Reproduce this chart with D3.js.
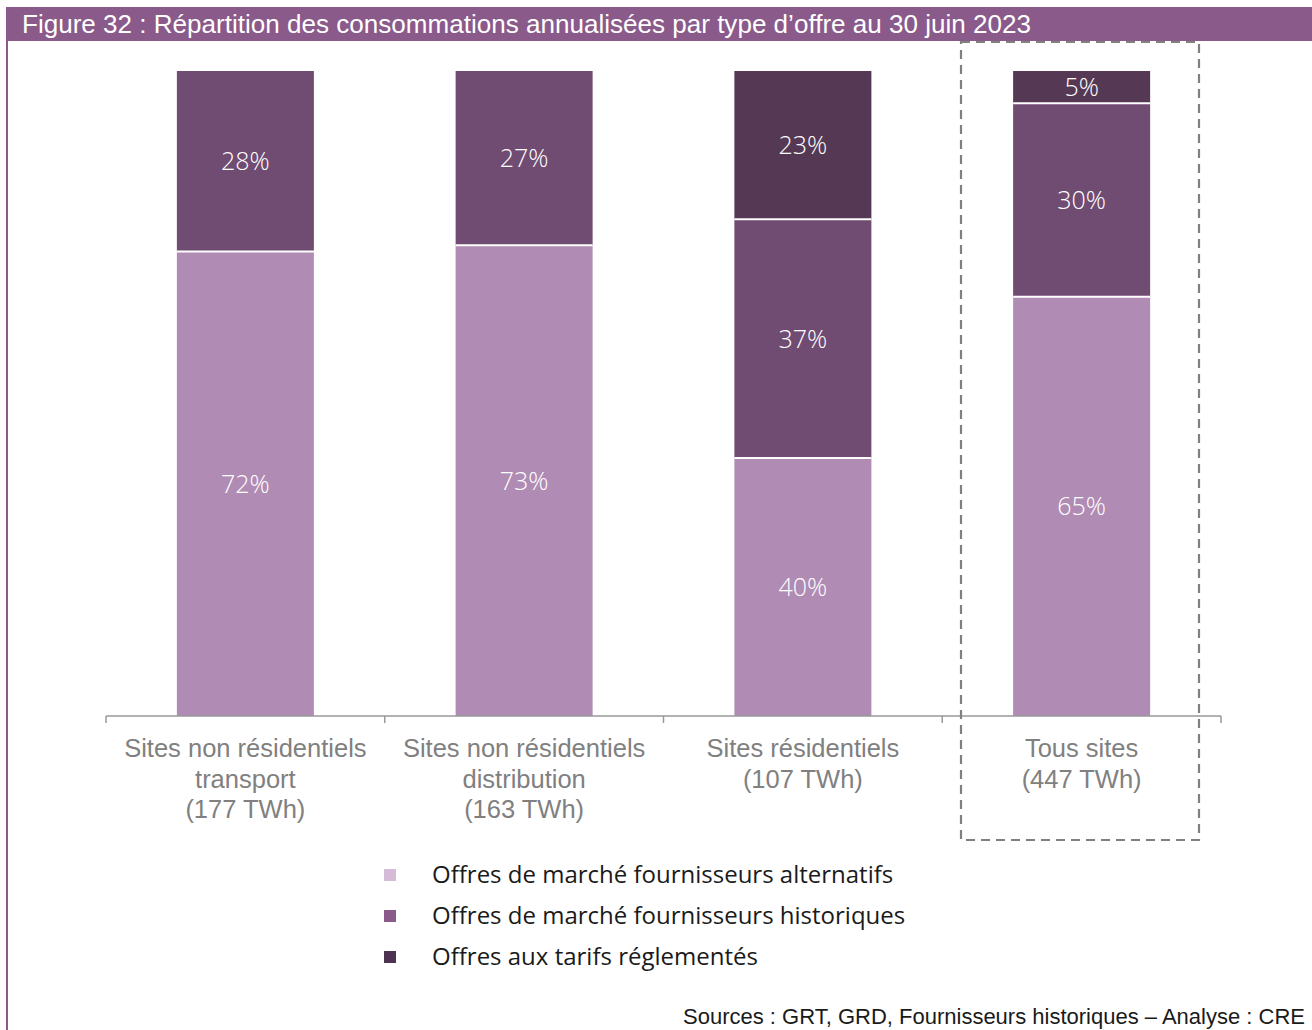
<!DOCTYPE html>
<html><head><meta charset="utf-8">
<script src="https://cdn.jsdelivr.net/npm/d3@7"></script>
<style>body{margin:0;background:#fff}svg{display:block}</style>
</head><body><svg id="c" width="1312" height="1030"></svg>
<script>
const title = "Figure 32 : Répartition des consommations annualisées par type d’offre au 30 juin 2023";
const categories = [
  ["Sites non résidentiels","transport","(177 TWh)"],
  ["Sites non résidentiels","distribution","(163 TWh)"],
  ["Sites résidentiels","(107 TWh)"],
  ["Tous sites","(447 TWh)"]
];
const seriesNames = ["Offres de marché fournisseurs alternatifs","Offres de marché fournisseurs historiques","Offres aux tarifs réglementés"];
const alternatifs = [72, 73, 40, 65];
const historiques = [28, 27, 37, 30];
const tarifs = [0, 0, 23, 5];
const source = "Sources : GRT, GRD, Fournisseurs historiques – Analyse : CRE";

const barColors = ["#b08bb3", "#704b72", "#553853"];
const legendColors = ["#d4bcd6", "#8a5a8b", "#4e3350"];
const FONT = "Open Sans, Liberation Sans, sans-serif";
const FONT2 = "Liberation Sans, Arial, sans-serif";

const svg = d3.select("#c");
const W = 1312, H = 1030;
// frame
svg.append("rect").attr("x",6).attr("y",7).attr("width",W-6).attr("height",34).attr("fill","#8a5a8b");
svg.append("rect").attr("x",6).attr("y",7).attr("width",2).attr("height",H-7).attr("fill","#8a5a8b");
svg.append("text").attr("x",22).attr("y",33).attr("fill","#fff")
  .attr("font-family","Liberation Sans Narrow, Liberation Sans, sans-serif").attr("font-size",25)
  .attr("textLength",1009).attr("lengthAdjust","spacingAndGlyphs").text(title);

const x = d3.scaleBand().domain(d3.range(categories.length)).range([106,1221]).paddingInner(0).paddingOuter(0);
const y = d3.scaleLinear().domain([0,100]).range([716,71]);
const barW = 137;

const rows = categories.map((c,i)=>({i, a:alternatifs[i], h:historiques[i], t:tarifs[i]}));
const stack = d3.stack().keys(["a","h","t"])(rows);

const g = svg.append("g");
stack.forEach((layer,k)=>{
  layer.forEach((d,i)=>{
    if (d[1]-d[0] <= 0) return;
    const cx = x(i)+x.bandwidth()/2;
    g.append("rect").attr("x",cx-barW/2).attr("y",y(d[1])).attr("width",barW)
      .attr("height",y(d[0])-y(d[1])).attr("fill",barColors[k]);
  });
});
// white separators
stack.forEach((layer,k)=>{
  if(k===0) return;
  layer.forEach((d,i)=>{
    if (d[1]-d[0] <= 0) return;
    const cx = x(i)+x.bandwidth()/2;
    g.append("line").attr("x1",cx-barW/2).attr("x2",cx+barW/2).attr("y1",y(d[0])).attr("y2",y(d[0]))
      .attr("stroke","#fff").attr("stroke-width",2);
  });
});
stack.forEach((layer,k)=>{
  layer.forEach((d,i)=>{
    const v = d[1]-d[0]; if (v<=0) return;
    const cx = x(i)+x.bandwidth()/2;
    g.append("text").attr("x",cx).attr("y",(y(d[0])+y(d[1]))/2+9).attr("text-anchor","middle")
      .attr("fill","#fff").attr("font-family",FONT).attr("font-weight",300).attr("font-size",25)
      .text(v+"%");
  });
});

// axis
const ax = svg.append("g").attr("transform","translate(0,716)");
ax.append("line").attr("x1",106).attr("x2",1221).attr("stroke","#999").attr("stroke-width",1.5);
d3.range(categories.length+1).forEach(i=>{
  const xx = i<categories.length ? x(i) : x(categories.length-1)+x.bandwidth();
  ax.append("line").attr("x1",xx).attr("x2",xx).attr("y1",0).attr("y2",7).attr("stroke","#999").attr("stroke-width",1.5);
});
categories.forEach((lines,i)=>{
  const t = svg.append("text").attr("text-anchor","middle").attr("fill","#808080")
    .attr("font-family",FONT2).attr("font-size",25.5);
  lines.forEach((l,j)=>t.append("tspan").attr("x",x(i)+x.bandwidth()/2).attr("y",757+j*30.5).text(l));
});

// dashed box
svg.append("rect").attr("x",961).attr("y",42).attr("width",238).attr("height",798)
  .attr("fill","none").attr("stroke","#808080").attr("stroke-width",2.2).attr("stroke-dasharray","9,6");

// legend
seriesNames.forEach((n,k)=>{
  const yy = 875 + k*41;
  svg.append("rect").attr("x",384).attr("y",yy-6).attr("width",12).attr("height",12).attr("fill",legendColors[k]);
  svg.append("text").attr("x",432).attr("y",yy+8).attr("fill","#1a1a1a")
    .attr("font-family",FONT).attr("font-size",24).text(n);
});
svg.append("text").attr("x",1305).attr("y",1024).attr("text-anchor","end").attr("fill","#1a1a1a")
  .attr("font-family",FONT2).attr("font-size",22).text(source);
</script></body></html>
